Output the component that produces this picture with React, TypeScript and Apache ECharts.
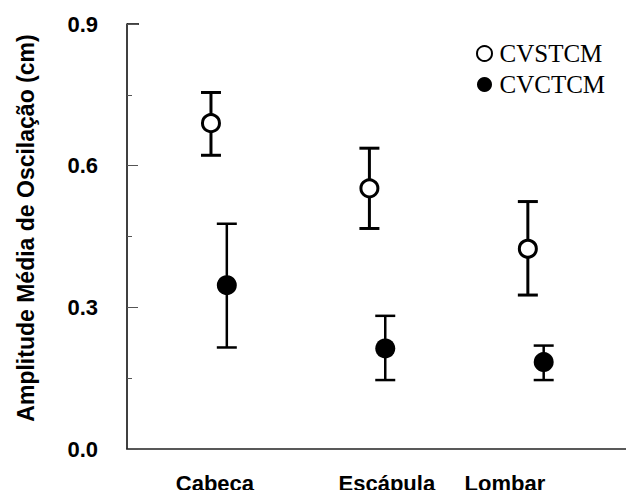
import React, { useEffect, useRef } from "react";
import * as echarts from "echarts";

const categories = ["Cabeça", "Escápula", "Lombar"];
const labelPositions = [0.025, 1.11, 1.855];
const openX = [0, 1, 2];
const filledX = [0.1, 1.1, 2.1];
const openMean = [0.69, 0.552, 0.424];
const openUpper = [0.755, 0.637, 0.524];
const openLower = [0.622, 0.467, 0.326];
const filledMean = [0.347, 0.213, 0.184];
const filledUpper = [0.477, 0.282, 0.219];
const filledLower = [0.215, 0.146, 0.146];
const yTicks = [0, 0.3, 0.6, 0.9];

function errorRender(lineWidth: number) {
  return (params: any, api: any) => {
    const x = api.value(0);
    const top = api.coord([x, api.value(2)]);
    const bot = api.coord([x, api.value(1)]);
    const hw = 10;
    const st = { stroke: "#000", lineWidth };
    return {
      type: "group",
      children: [
        { type: "line", shape: { x1: top[0], y1: top[1], x2: bot[0], y2: bot[1] }, style: st },
        { type: "line", shape: { x1: top[0] - hw, y1: top[1], x2: top[0] + hw, y2: top[1] }, style: st },
        { type: "line", shape: { x1: bot[0] - hw, y1: bot[1], x2: bot[0] + hw, y2: bot[1] }, style: st },
      ],
    };
  };
}

export default function App() {
  const ref = useRef<HTMLDivElement>(null);
  useEffect(() => {
    const chart = echarts.init(ref.current!, null, { renderer: "svg" });
    chart.setOption({
      animation: false,
      backgroundColor: "#fff",
      grid: { left: 127, top: 24, right: 0, bottom: 49 },
      legend: {
        orient: "vertical",
        left: 471,
        top: 36,
        itemGap: 6,
        itemWidth: 20,
        itemHeight: 15,
        data: ["CVSTCM", "CVCTCM"],
        textStyle: { fontFamily: "Liberation Serif", fontSize: 25, color: "#000", lineHeight: 24 },
      },
      xAxis: {
        type: "value",
        min: -0.53,
        max: 2.67,
        splitLine: { show: false },
        axisTick: { show: false },
        axisLine: { show: true, onZero: false, lineStyle: { color: "#222", width: 1.5 } },
        axisLabel: {
          customValues: labelPositions,
          margin: 23,
          formatter: (v: number, i: number) => {
            const idx = labelPositions.findIndex((p) => Math.abs(p - v) < 1e-6);
            return categories[idx >= 0 ? idx : i];
          },
          fontFamily: "Liberation Sans",
          fontWeight: "bold",
          fontSize: 22,
          color: "#000",
        },
      },
      yAxis: {
        type: "value",
        min: 0,
        max: 0.9,
        interval: 0.3,
        splitLine: { show: false },
        axisLine: { show: true, onZero: false, lineStyle: { color: "#000", width: 1.5 } },
        axisTick: { show: true, inside: true, length: 11, lineStyle: { color: "#555", width: 1 } },
        minorTick: { show: true, splitNumber: 2, length: 5, lineStyle: { color: "#555", width: 1 } },
        axisLabel: {
          margin: 29,
          formatter: (v: number) => {
            const t = yTicks.find((k) => Math.abs(k - v) < 1e-6);
            return (t ?? v).toFixed(1);
          },
          fontFamily: "Liberation Sans",
          fontWeight: "bold",
          fontSize: 22,
          color: "#000",
        },
      },
      graphic: [
        {
          type: "text",
          x: 26,
          y: 228,
          rotation: Math.PI / 2,
          style: {
            text: "Amplitude Média de Oscilação (cm)",
            fontFamily: "Liberation Sans",
            fontWeight: "bold",
            fontSize: 23,
            fill: "#000",
            align: "center",
            verticalAlign: "middle",
          },
        },
        {
          type: "line",
          shape: { x1: 127, y1: 24, x2: 139, y2: 24 },
          style: { stroke: "#000", lineWidth: 1.5 },
        },
      ],
      series: [
        {
          type: "custom",
          name: "errOpen",
          renderItem: errorRender(3),
          data: openX.map((x, i) => [x, openLower[i], openUpper[i]]),
          z: 2,
        },
        {
          type: "custom",
          name: "errFilled",
          renderItem: errorRender(2.5),
          data: filledX.map((x, i) => [x, filledLower[i], filledUpper[i]]),
          z: 2,
        },
        {
          type: "scatter",
          name: "CVSTCM",
          symbol: "circle",
          symbolSize: 17,
          itemStyle: { color: "#fff", borderColor: "#000", borderWidth: 3, opacity: 1 },
          data: openX.map((x, i) => [x, openMean[i]]),
          z: 5,
        },
        {
          type: "scatter",
          name: "CVCTCM",
          symbol: "circle",
          symbolSize: 20,
          itemStyle: { color: "#000", opacity: 1 },
          data: filledX.map((x, i) => [x, filledMean[i]]),
          z: 5,
        },
      ],
    });
    return () => chart.dispose();
  }, []);
  return <div ref={ref} style={{ width: 634, height: 498, margin: -8 }} />;
}
